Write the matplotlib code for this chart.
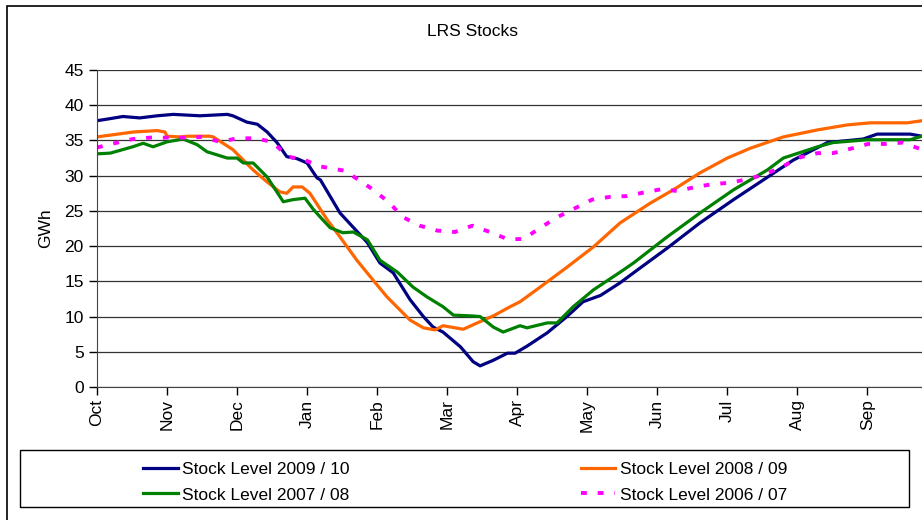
import matplotlib
matplotlib.use("Agg")
import matplotlib.pyplot as plt
from matplotlib.patches import Rectangle

plt.rcParams['font.family'] = ['Liberation Sans', 'DejaVu Sans']

# month axis: 0 = start of Oct, 1 = start of Nov, ...
months = ['Oct', 'Nov', 'Dec', 'Jan', 'Feb', 'Mar', 'Apr', 'May', 'Jun', 'Jul', 'Aug', 'Sep']

# Stock Level 2009 / 10
x_0910 = [0, 0.19, 0.37, 0.61, 0.86, 1.09, 1.47, 1.86, 1.94, 2.14, 2.29, 2.43, 2.57, 2.71,
          2.86, 3.0, 3.14, 3.19, 3.47, 3.86, 4.04, 4.23, 4.47, 4.66, 4.8, 4.94, 5.19, 5.37,
          5.47, 5.66, 5.86, 5.97, 6.14, 6.43, 6.71, 6.94, 7.19, 7.47, 7.66, 8.14, 8.61, 9.09,
          9.47, 9.94, 10.43, 10.94, 11.14, 11.61, 11.78]
y_0910 = [37.8, 38.1, 38.4, 38.2, 38.5, 38.7, 38.5, 38.7, 38.5, 37.6, 37.3, 36.2, 34.7, 32.7,
          32.4, 31.8, 29.7, 29.4, 24.7, 20.5, 17.6, 16.2, 12.4, 10.0, 8.5, 7.8, 5.7, 3.6,
          3.0, 3.8, 4.8, 4.8, 5.8, 7.7, 10.0, 12.1, 13.0, 14.8, 16.2, 19.7, 23.3, 26.6,
          29.1, 32.2, 34.7, 35.2, 35.9, 35.9, 35.6]

# Stock Level 2008 / 09
x_0809 = [0, 0.52, 0.86, 0.97, 1.0, 1.19, 1.29, 1.61, 1.66, 1.94, 2.23, 2.43, 2.61, 2.71,
          2.8, 2.93, 3.04, 3.29, 3.47, 3.71, 3.94, 4.14, 4.33, 4.47, 4.66, 4.83, 4.94, 5.23,
          5.43, 5.66, 5.9, 6.04, 6.33, 6.71, 7.09, 7.47, 7.9, 8.23, 8.61, 9.0, 9.33, 9.8,
          10.29, 10.71, 11.04, 11.57, 11.78]
y_0809 = [35.5, 36.2, 36.4, 36.2, 35.6, 35.5, 35.6, 35.6, 35.5, 33.7, 30.8, 29.1, 27.7, 27.5,
          28.4, 28.4, 27.5, 23.7, 21.3, 18.0, 15.2, 12.8, 10.9, 9.5, 8.4, 8.1, 8.7, 8.2,
          9.1, 10.1, 11.4, 12.1, 14.2, 17.0, 19.9, 23.3, 26.1, 28.0, 30.4, 32.5, 33.9, 35.5,
          36.5, 37.2, 37.5, 37.5, 37.8]

# Stock Level 2007 / 08
x_0708 = [0, 0.19, 0.51, 0.66, 0.8, 1.0, 1.23, 1.43, 1.57, 1.86, 2.0, 2.09, 2.23, 2.43,
          2.66, 2.8, 2.97, 3.09, 3.19, 3.33, 3.51, 3.66, 3.86, 4.04, 4.29, 4.51, 4.71, 4.94,
          5.09, 5.33, 5.47, 5.66, 5.8, 6.04, 6.14, 6.43, 6.57, 6.8, 7.09, 7.47, 7.66, 8.14,
          8.61, 9.09, 9.57, 9.8, 10.29, 10.51, 11.0, 11.61, 11.78]
y_0708 = [33.1, 33.2, 34.1, 34.6, 34.1, 34.8, 35.2, 34.4, 33.4, 32.5, 32.5, 31.8, 31.8, 29.8,
          26.3, 26.6, 26.8, 25.2, 24.1, 22.6, 21.9, 22.0, 20.9, 18.0, 16.3, 14.2, 12.8, 11.4,
          10.2, 10.1, 10.0, 8.5, 7.8, 8.7, 8.4, 9.1, 9.1, 11.4, 13.8, 16.3, 17.6, 21.3,
          24.7, 28.0, 30.8, 32.5, 34.1, 34.7, 35.1, 35.1, 35.6]

# Stock Level 2006 / 07
x_0607 = [0, 0.29, 0.51, 0.76, 1.26, 1.5, 1.76, 2.0, 2.26, 2.5, 2.73, 2.97, 3.19, 3.54,
          3.9, 4.16, 4.37, 4.61, 4.86, 5.11, 5.36, 5.61, 5.86, 6.09, 6.33, 6.57, 6.83, 7.07,
          7.33, 7.57, 7.8, 8.07, 8.3, 8.54, 8.8, 9.04, 9.29, 9.54, 9.79, 10.04, 10.29, 10.51,
          10.79, 11.01, 11.26, 11.5, 11.78]
y_0607 = [34.0, 34.7, 35.2, 35.4, 35.4, 35.5, 34.8, 35.3, 35.3, 34.8, 32.7, 32.2, 31.3, 30.7,
          28.3, 26.3, 24.1, 22.9, 22.2, 22.0, 22.9, 22.0, 21.0, 21.0, 22.6, 24.1, 25.4, 26.6,
          27.0, 27.1, 27.6, 28.1, 27.8, 28.4, 28.8, 29.0, 29.5, 30.2, 31.3, 32.6, 33.2, 33.2,
          33.9, 34.5, 34.5, 34.7, 33.7]

fig = plt.figure(figsize=(9.22, 5.2), dpi=100)
W, H = 922, 520
FS = 12.5

# outer chart frame (cropped on the right / bottom)
fig.add_artist(Rectangle((7 / W, -0.05), 1.1, (H - 6) / H + 0.05, transform=fig.transFigure,
                         fill=False, edgecolor='black', lw=1.2))

ax = fig.add_axes([97 / W, (H - 387) / H, (W - 97) / W, (387 - 70) / H])

l1, = ax.plot(x_0910, y_0910, color='#000080', lw=2.3, label='Stock Level 2009 / 10')
l2, = ax.plot(x_0809, y_0809, color='#FF6600', lw=2.3, label='Stock Level 2008 / 09')
l3, = ax.plot(x_0708, y_0708, color='#008000', lw=2.3, label='Stock Level 2007 / 08')
l4, = ax.plot(x_0607, y_0607, color='#FF00FF', lw=2.8, ls=(0, (1.5, 2.8)),
              dash_capstyle='butt', label='Stock Level 2006 / 07')

ax.set_xlim(0, 11.78)
ax.set_ylim(0, 45)
ax.set_yticks(range(0, 46, 5))
ax.set_xticks(range(len(months)))
ax.set_xticklabels(months, rotation=90, fontsize=FS)
ax.tick_params(axis='y', labelsize=FS, length=6, direction='out', width=1)
ax.tick_params(axis='x', length=6, direction='out', width=1, pad=3)
ax.yaxis.grid(True, color='#333333', lw=0.9)
ax.set_axisbelow(True)
for side in ['top', 'right']:
    ax.spines[side].set_visible(False)
ax.spines['left'].set_color('#444444')
ax.spines['bottom'].set_color('#444444')
ax.set_ylabel('GWh', fontsize=FS, labelpad=8)

fig.text(472 / W, 1 - 32 / H, 'LRS Stocks', ha='center', va='center', fontsize=FS)

# legend box below the plot
fig.add_artist(Rectangle((20 / W, 1 - 507 / H), (909 - 20) / W, (507 - 450) / H,
                         transform=fig.transFigure, fill=False, edgecolor='black', lw=1))
# column-major fill -> order so rows read 2009/10, 2008/09 | 2007/08, 2006/07
fig.legend([l1, l3, l2, l4], [l.get_label() for l in (l1, l3, l2, l4)],
           ncol=2, frameon=False, fontsize=FS,
           loc='upper left', bbox_to_anchor=(131 / W, 1 - 450 / H),
           handlelength=2.0, handletextpad=0.25, columnspacing=13.3,
           labelspacing=0.58, borderpad=0.2)

fig.savefig('out.png', dpi=100)
